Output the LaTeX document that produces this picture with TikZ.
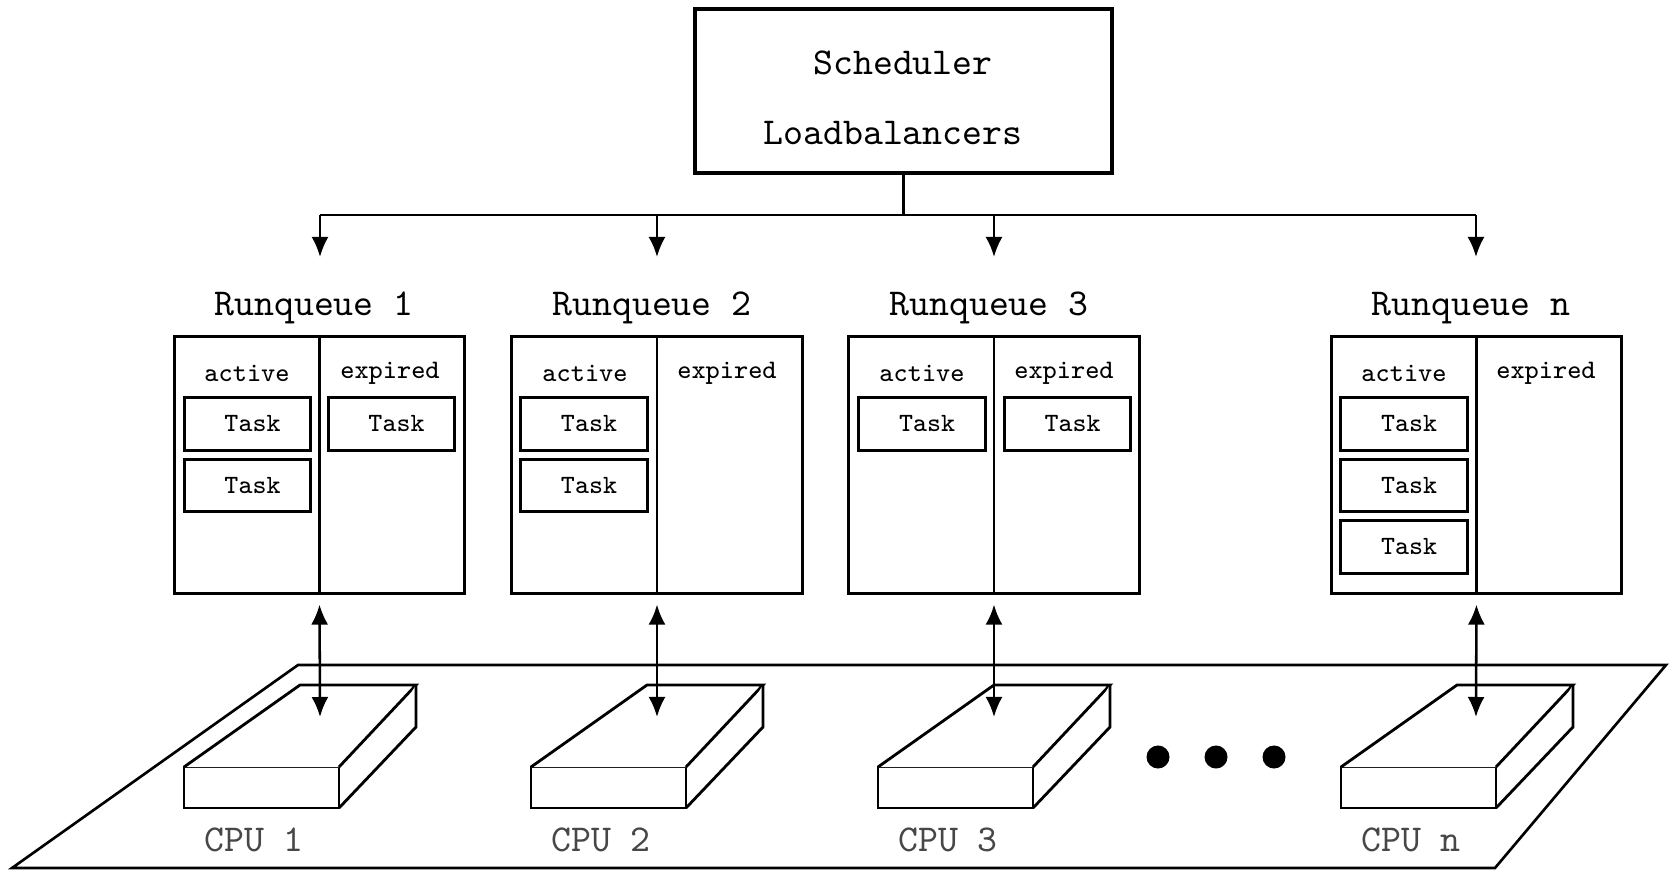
\documentclass[tikz,border=0pt]{standalone}
\usepackage{fontspec}
\usetikzlibrary{arrows.meta,calc}
\newcommand\cpuunit[4]{% #1 name, #2 front-left x, #3 arrow x, #4 label
  \draw[cpuline] (#2,767) rectangle ++(155,41);
  \draw[cpuline] (#2,767) -- ++(116,-82) -- ++(116,0) -- ++(-77,82);
  \draw[cpuline] (#2+155,808) -- ++(77,-81) -- ++(0,-42);
  \node[cpulabel] (#1lab) at (#2+70,840) {CPU #4};
  \coordinate (#1) at (#3,717);
}
\begin{document}
\begin{tikzpicture}[x=0.01cm,y=-0.01cm,
  bigtxt/.style={font=\ttfamily\fontsize{10.8pt}{12pt}\selectfont, inner sep=0pt},
  smalltxt/.style={font=\ttfamily\fontsize{7.6pt}{9pt}\selectfont, inner sep=0pt},
  schedbox/.style={draw, line width=1.15pt, minimum width=4.17cm, minimum height=1.64cm, inner sep=0pt},
  rqbox/.style={draw, line width=0.85pt, minimum width=2.9cm, minimum height=2.56cm, inner sep=0pt},
  rqline/.style={line width=0.75pt},
  taskbox/.style={draw, line width=0.85pt, minimum width=1.26cm, minimum height=0.52cm, inner sep=0pt, font=\ttfamily\fontsize{7.5pt}{9pt}\selectfont},
  conn/.style={line width=0.72pt},
  arr/.style={conn, -{Latex[length=2mm,width=1.7mm]}},
  dblarr/.style={conn, {Latex[length=2mm,width=1.7mm]}-{Latex[length=2mm,width=1.7mm]}, shorten <=0.1cm},
  cpuline/.style={line width=0.8pt, line join=miter, fill=white},
  cpulabel/.style={bigtxt, text=black!72},
  platform/.style={line width=0.75pt, line join=miter},
]
\useasboundingbox (0,0) rectangle (1669,870);

% platform
\draw[platform] (298,665) -- (1666,665) -- (1495,868) -- (12,868) -- cycle;

% scheduler
\node[schedbox] (sched) at (903.5,91) {};
\node[bigtxt] (schedtxt) at (903,63) {Scheduler};
\node[bigtxt] (lbtxt) at (893,133) {Loadbalancers};

% bus
\coordinate (b1) at (320,215);
\coordinate (b2) at (657,215);
\coordinate (b3) at (994,215);
\coordinate (b4) at (1476,215);
\coordinate (e1) at (320,257);
\coordinate (e2) at (657,257);
\coordinate (e3) at (994,257);
\coordinate (e4) at (1476,257);
\draw[conn] (sched.south) -- (sched.south |- b1);
\draw[conn] (b1) -- (b4);
\draw[arr] (b1) -- (e1);
\draw[arr] (b2) -- (e2);
\draw[arr] (b3) -- (e3);
\draw[arr] (b4) -- (e4);

% runqueue 1
\node[bigtxt] (rq1lab) at (314,308) {Runqueue 1};
\node[rqbox] (rq1) at (319.5,465) {};
\draw[rqline] (rq1.north) -- (rq1.south);
\node[smalltxt] (rq1act) at (247,373) {active};
\node[smalltxt] (rq1exp) at (390,373) {expired};
\node[taskbox] (rq1a1) at (247.5,424) {\hspace*{0.1cm}Task};
\node[taskbox] (rq1a2) at (247.5,485.5) {\hspace*{0.1cm}Task};
\node[taskbox] (rq1e1) at (391.5,424) {\hspace*{0.1cm}Task};

% runqueue 2
\node[bigtxt] (rq2lab) at (652,308) {Runqueue 2};
\node[rqbox] (rq2) at (657,465) {};
\draw[rqline] (rq2.north) -- (rq2.south);
\node[smalltxt] (rq2act) at (585,373) {active};
\node[smalltxt] (rq2exp) at (727,373) {expired};
\node[taskbox] (rq2a1) at (584,424) {\hspace*{0.1cm}Task};
\node[taskbox] (rq2a2) at (584,485.5) {\hspace*{0.1cm}Task};

% runqueue 3
\node[bigtxt] (rq3lab) at (989,308) {Runqueue 3};
\node[rqbox] (rq3) at (994,465) {};
\draw[rqline] (rq3.north) -- (rq3.south);
\node[smalltxt] (rq3act) at (922,373) {active};
\node[smalltxt] (rq3exp) at (1064,373) {expired};
\node[taskbox] (rq3a1) at (922,424) {\hspace*{0.1cm}Task};
\node[taskbox] (rq3e1) at (1067.5,424) {\hspace*{0.1cm}Task};

% runqueue n
\node[bigtxt] (rq4lab) at (1471,308) {Runqueue n};
\node[rqbox] (rq4) at (1476.5,465) {};
\draw[rqline] (rq4.north) -- (rq4.south);
\node[smalltxt] (rq4act) at (1404,373) {active};
\node[smalltxt] (rq4exp) at (1546,373) {expired};
\node[taskbox] (rq4a1) at (1404,424) {\hspace*{0.1cm}Task};
\node[taskbox] (rq4a2) at (1404,485.5) {\hspace*{0.1cm}Task};
\node[taskbox] (rq4a3) at (1404,547) {\hspace*{0.1cm}Task};

% CPUs
\cpuunit{cpu1}{184}{320}{1}
\cpuunit{cpu2}{531}{657}{2}
\cpuunit{cpu3}{878}{994}{3}
\cpuunit{cpu4}{1341}{1476}{n}

% dots
\fill (1158,757) circle[radius=0.115cm];
\fill (1216,757) circle[radius=0.115cm];
\fill (1274,757) circle[radius=0.115cm];

% rq <-> cpu
\draw[dblarr] (rq1.south) -- (cpu1);
\draw[dblarr] (rq2.south) -- (cpu2);
\draw[dblarr] (rq3.south) -- (cpu3);
\draw[dblarr] (rq4.south) -- (cpu4);
\end{tikzpicture}
\end{document}
